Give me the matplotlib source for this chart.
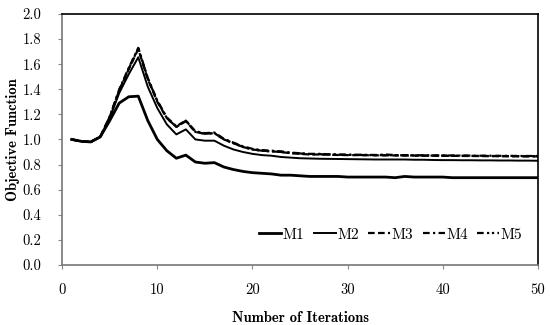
import matplotlib
matplotlib.use('agg')
import matplotlib.pyplot as plt
import numpy as np

iterations = list(range(1, 51))

m1 = [1.00, 0.985, 0.98, 1.02, 1.15, 1.29, 1.34, 1.345, 1.15, 1.00,
      0.91, 0.85, 0.875, 0.82, 0.81, 0.815, 0.78, 0.76, 0.745, 0.735,
      0.73, 0.725, 0.715, 0.715, 0.71, 0.705, 0.705, 0.705, 0.705, 0.70,
      0.70, 0.70, 0.70, 0.70, 0.695, 0.705, 0.70, 0.70, 0.70, 0.70,
      0.695, 0.695, 0.695, 0.695, 0.695, 0.695, 0.695, 0.695, 0.695, 0.695]
m2 = [1.00, 0.985, 0.98, 1.02, 1.17, 1.37, 1.52, 1.655, 1.42, 1.25,
      1.12, 1.04, 1.08, 1.00, 0.99, 0.99, 0.95, 0.92, 0.90, 0.885,
      0.875, 0.87, 0.86, 0.855, 0.85, 0.848, 0.846, 0.845, 0.844, 0.843,
      0.842, 0.841, 0.84, 0.84, 0.84, 0.84, 0.838, 0.838, 0.836, 0.835,
      0.835, 0.834, 0.834, 0.833, 0.833, 0.832, 0.832, 0.831, 0.831, 0.83]
m3 = [1.00, 0.985, 0.98, 1.02, 1.18, 1.39, 1.56, 1.72, 1.48, 1.30,
      1.17, 1.10, 1.145, 1.06, 1.045, 1.05, 1.00, 0.97, 0.94, 0.92,
      0.91, 0.905, 0.90, 0.89, 0.885, 0.88, 0.88, 0.878, 0.876, 0.875,
      0.875, 0.874, 0.873, 0.873, 0.872, 0.872, 0.871, 0.870, 0.870, 0.869,
      0.869, 0.868, 0.868, 0.867, 0.867, 0.866, 0.866, 0.865, 0.865, 0.865]
m4 = [1.00, 0.985, 0.98, 1.02, 1.18, 1.40, 1.57, 1.73, 1.49, 1.31,
      1.175, 1.105, 1.15, 1.065, 1.05, 1.055, 1.005, 0.975, 0.945, 0.925,
      0.915, 0.91, 0.905, 0.895, 0.89, 0.885, 0.885, 0.882, 0.88, 0.878,
      0.878, 0.877, 0.876, 0.88, 0.875, 0.875, 0.874, 0.873, 0.873, 0.872,
      0.872, 0.871, 0.871, 0.870, 0.870, 0.869, 0.869, 0.868, 0.868, 0.868]
m5 = [1.00, 0.985, 0.98, 1.02, 1.18, 1.39, 1.565, 1.725, 1.485, 1.305,
      1.17, 1.10, 1.15, 1.06, 1.045, 1.05, 1.00, 0.97, 0.94, 0.92,
      0.91, 0.905, 0.90, 0.892, 0.888, 0.883, 0.882, 0.88, 0.878, 0.877,
      0.876, 0.875, 0.875, 0.874, 0.874, 0.873, 0.872, 0.872, 0.871, 0.871,
      0.870, 0.870, 0.869, 0.869, 0.868, 0.868, 0.867, 0.867, 0.866, 0.866]

labels = ['M1', 'M2', 'M3', 'M4', 'M5']

fig = plt.figure(figsize=(5.5, 3.25), dpi=100)
ax = fig.add_axes([0.113, 0.185, 0.865, 0.772])

ax.plot(iterations, m1, color='black', lw=2.0, label=labels[0])
ax.plot(iterations, m2, color='black', lw=1.4, label=labels[1])
ax.plot(iterations, m3, color='black', lw=1.6, ls=(0, (3, 1.5)), label=labels[2])
ax.plot(iterations, m4, color='black', lw=1.6, ls=(0, (3, 1.5, 1, 1.5)), label=labels[3])
ax.plot(iterations, m5, color='black', lw=1.6, ls=(0, (3, 1.5, 1, 1.2, 1, 1.5)), label=labels[4])

ax.set_xlim(0, 50)
ax.set_ylim(0, 2.0)
ax.set_xticks(np.arange(0, 51, 10))
ax.set_yticks(np.arange(0, 2.01, 0.2))
ax.set_yticklabels(['%.1f' % v for v in np.arange(0, 2.01, 0.2)])

for t in ax.get_xticklabels() + ax.get_yticklabels():
    t.set_fontfamily('cmr10')
    t.set_fontsize(10.5)

ax.tick_params(axis='both', direction='out', length=3, color='#888888')
ax.tick_params(axis='y', pad=12)
ax.tick_params(axis='x', pad=10)

for s in ['left', 'bottom']:
    ax.spines[s].set_color('#777777')
    ax.spines[s].set_linewidth(1.2)
for s in ['top', 'right']:
    ax.spines[s].set_color('black')
    ax.spines[s].set_linewidth(1.2)

ax.set_xlabel('Number of Iterations', fontfamily='cmb10', fontsize=10.5, labelpad=10)
ax.set_ylabel('Objective Function', fontfamily='cmb10', fontsize=10.5, labelpad=2)

leg = ax.legend(loc='lower right', ncol=5, frameon=False, handlelength=1.45,
                handletextpad=0.1, columnspacing=0.6, bbox_to_anchor=(0.99, 0.05),
                borderpad=0.2, prop={'family': 'cmr10', 'size': 11})

fig.savefig('out.png', dpi=100)
